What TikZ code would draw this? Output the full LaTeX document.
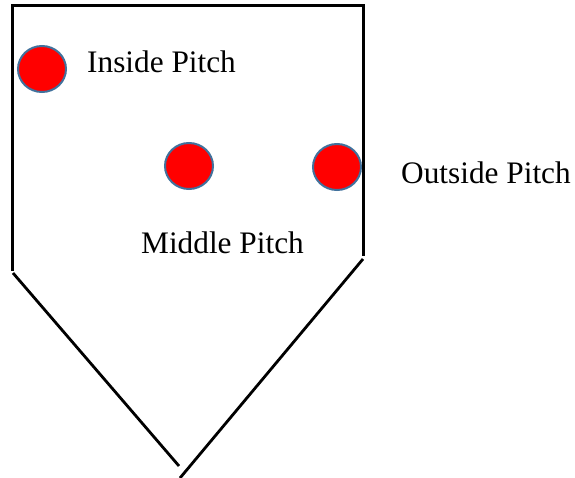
\documentclass[tikz,border=0pt]{standalone}
\usepackage{fontspec}
\setmainfont{Liberation Serif}
\usetikzlibrary{shapes.geometric}
\begin{document}
\begin{tikzpicture}[x=1pt,y=-1pt,
  plateline/.style={line width=3.6pt,line cap=rect},
  diagline/.style={line width=2.8pt},
  ball/.style={ellipse,minimum width=48pt,minimum height=46pt,inner sep=0pt,fill=red,draw=ballblue,line width=2pt},
  lbl/.style={anchor=base west,inner sep=0pt,font=\fontsize{31.3}{37}\selectfont}]
\definecolor{ballblue}{HTML}{41719C}
\useasboundingbox (0,0) rectangle (575,477);
\coordinate (tl) at (12.5,5.5);
\coordinate (tr) at (363.5,5.5);
\coordinate (bl) at (12.5,269);
\coordinate (br) at (363.5,254);
\coordinate (dl) at (13,273);
\coordinate (dle) at (179,466);
\coordinate (dr) at (363,259);
\coordinate (dre) at (180,478);
\draw[plateline] (bl) -- (tl) -- (tr) -- (br);
\draw[diagline] (dl) -- (dle);
\draw[diagline] (dr) -- (dre);
\node[ball] (inside) at (42,69) {};
\node[ball] (middle) at (189,166) {};
\node[ball] (outside) at (337,167) {};
\node[lbl] (tin) at (87,72) {Inside Pitch};
\node[lbl] (tout) at (401,183) {Outside Pitch};
\node[lbl] (tmid) at (141,253) {Middle Pitch};
\end{tikzpicture}
\end{document}
